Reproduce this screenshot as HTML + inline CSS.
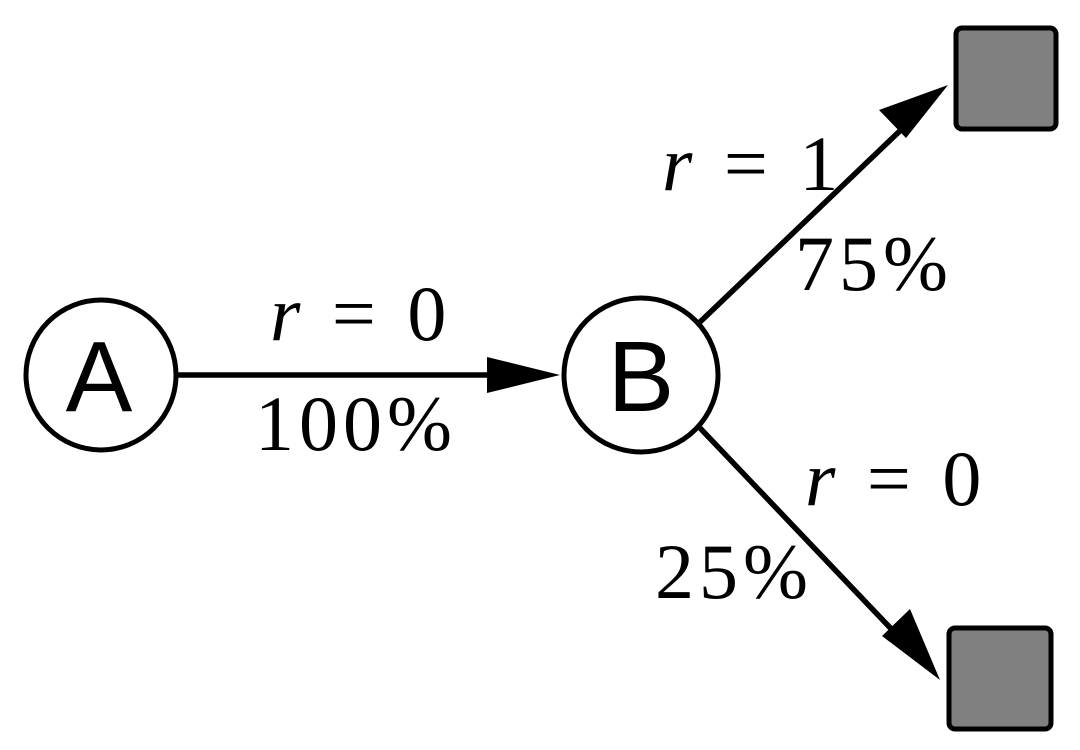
<!DOCTYPE html>
<html><head><meta charset="utf-8"><style>
html,body{margin:0;padding:0;background:#fff;}
svg{display:block}
.t{font-family:"Liberation Serif",serif;font-size:78px;fill:#000;letter-spacing:5px;word-spacing:2px}
.l{font-family:"Liberation Sans",sans-serif;font-size:100px;fill:#000}
</style></head><body>
<svg width="1080" height="750" viewBox="0 0 1080 750">
<g stroke="#000" stroke-width="5.5" fill="none">
<line x1="177" y1="375" x2="500" y2="375"/>
<line x1="700" y1="322" x2="905" y2="126"/>
<line x1="700" y1="428" x2="898" y2="636"/>
</g>
<polygon points="560,375 487,357 487,393" fill="#000"/>
<polygon points="948,85 879,110 906,138" fill="#000"/>
<polygon points="940,680 910,609 882,636" fill="#000"/>
<circle cx="101" cy="375" r="75" fill="#fff" stroke="#000" stroke-width="5"/>
<circle cx="641" cy="375" r="77" fill="#fff" stroke="#000" stroke-width="5"/>
<text x="99" y="411" class="l" text-anchor="middle">A</text>
<text x="641" y="411" class="l" text-anchor="middle">B</text>
<rect x="956" y="28" width="100" height="101" rx="6" fill="#808080" stroke="#000" stroke-width="5"/>
<rect x="949" y="628" width="102" height="101" rx="6" fill="#808080" stroke="#000" stroke-width="5"/>
<text x="270" y="340" class="t"><tspan font-style="italic">r</tspan> = 0</text>
<text x="255" y="450" class="t">100%</text>
<text x="662" y="190" class="t"><tspan font-style="italic">r</tspan> = 1</text>
<text x="795" y="290" class="t">75%</text>
<text x="805" y="505" class="t"><tspan font-style="italic">r</tspan> = 0</text>
<text x="655" y="598" class="t">25%</text>
</svg>
</body></html>
